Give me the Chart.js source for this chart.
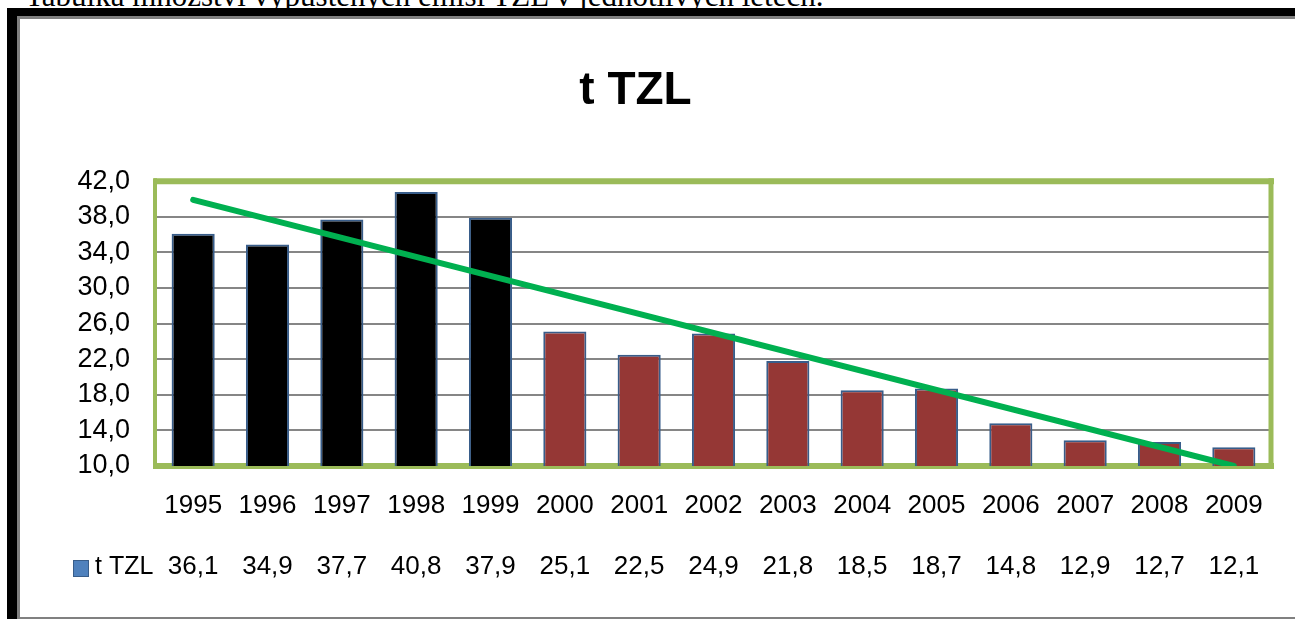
<!DOCTYPE html>
<html>
<head>
<meta charset="utf-8">
<script src="https://cdn.jsdelivr.net/npm/chart.js@4"></script>
<style>
  html, body { margin: 0; padding: 0; background: #fff; overflow: hidden; }
  #caption {
    position: absolute; left: 25px; top: -20px; white-space: nowrap;
    font: 31px/31px "Liberation Serif", "Times New Roman", serif; color: #000;
  }
  #frameOuter {
    position: absolute; left: 7px; top: 8px; width: 1400px; height: 700px;
    border-left: 10px solid #000; border-top: 8px solid #000;
  }
  #frameInner {
    position: absolute; left: 17px; top: 16px; width: 1400px; height: 598px;
    border-left: 3px solid #808080; border-top: 3px solid #808080; border-bottom: 2px solid #808080;
  }
  #chart { position: absolute; left: 0; top: 0; }
</style>
</head>
<body>
<div id="caption">Tabulka množství vypuštěných emisí TZL v jednotlivých letech.</div>
<div id="frameOuter"></div>
<div id="frameInner"></div>
<canvas id="chart" width="1295" height="619"></canvas>
<script>
// --- Datos ---
const years = ['1995', '1996', '1997', '1998', '1999', '2000', '2001', '2002',
               '2003', '2004', '2005', '2006', '2007', '2008', '2009'];
const tzl = [36.1, 34.9, 37.7, 40.8, 37.9, 25.1, 22.5, 24.9, 21.8, 18.5, 18.7, 14.8, 12.9, 12.7, 12.1];
// linea de tendencia: solo los extremos
const trend = [39.9, null, null, null, null, null, null, null, null, null, null, null, null, null, 10.0];
const yTicks = [10, 14, 18, 22, 26, 30, 34, 38, 42];
const seriesName = 't TZL';

const FONT = '"Liberation Sans", Arial, sans-serif';
const fmt = v => v.toFixed(1).replace('.', ',');

// borde verde del area de trazado
const plotBorder = {
    id: 'plotBorder',
    beforeDatasetsDraw(chart) {
        const { ctx, chartArea: a } = chart;
        ctx.save();
        ctx.strokeStyle = '#9BBB59';
        ctx.lineWidth = 6;
        ctx.beginPath(); ctx.moveTo(a.left - 2, a.top); ctx.lineTo(a.right + 3, a.top); ctx.stroke();
        ctx.beginPath(); ctx.moveTo(a.left - 2, a.bottom); ctx.lineTo(a.right + 3, a.bottom); ctx.stroke();
        ctx.lineWidth = 4;
        ctx.beginPath(); ctx.moveTo(a.left - 1, a.top - 3); ctx.lineTo(a.left - 1, a.bottom + 3); ctx.stroke();
        ctx.lineWidth = 5;
        ctx.beginPath(); ctx.moveTo(a.right, a.top - 3); ctx.lineTo(a.right, a.bottom + 3); ctx.stroke();
        ctx.restore();
    }
};

// tabla de datos bajo el eje
const dataTable = {
    id: 'dataTable',
    afterDraw(chart) {
        const { ctx } = chart;
        const x = chart.scales.x;
        const rowY = 567;
        ctx.save();
        ctx.fillStyle = '#4F81BD';
        ctx.fillRect(73, 560, 16, 17);
        ctx.strokeStyle = '#385D8A';
        ctx.lineWidth = 1;
        ctx.strokeRect(73.5, 560.5, 15, 16);
        ctx.fillStyle = '#000';
        ctx.font = '25px ' + FONT;
        ctx.textBaseline = 'middle';
        ctx.textAlign = 'left';
        ctx.fillText(seriesName, 95, rowY);
        ctx.font = '26px ' + FONT;
        ctx.textAlign = 'center';
        tzl.forEach((v, i) => ctx.fillText(fmt(v), x.getPixelForValue(i), rowY));
        ctx.restore();
    }
};

new Chart(document.getElementById('chart'), {
    data: {
        labels: years,
        datasets: [{
            type: 'line',
            label: 'trend',
            data: trend,
            spanGaps: true,
            borderColor: '#00B050',
            borderWidth: 6,
            borderCapStyle: 'round',
            pointRadius: 0,
            order: 0
        }, {
            type: 'bar',
            label: seriesName,
            data: tzl,
            backgroundColor: years.map((y, i) => i < 5 ? '#000000' : '#953735'),
            borderColor: '#385D8A',
            borderWidth: 2,
            categoryPercentage: 1,
            barPercentage: 0.58,
            order: 1
        }]
    },
    options: {
        responsive: false,
        animation: false,
        layout: { padding: { left: 0, right: 24, top: 0, bottom: 0 } },
        plugins: {
            legend: { display: false },
            tooltip: { enabled: false },
            title: {
                display: true,
                text: seriesName,
                color: '#000',
                font: { family: FONT, size: 46, weight: 'bold', lineHeight: 1.2 },
                padding: { top: 64, bottom: 62 }
            }
        },
        scales: {
            x: {
                grid: { display: false, drawTicks: false },
                border: { display: false },
                ticks: { color: '#000', font: { family: FONT, size: 26 }, padding: 24, maxRotation: 0, autoSkip: false },
                afterFit(s) { s.height = 153; }
            },
            y: {
                min: 10,
                max: 42,
                afterBuildTicks(s) { s.ticks = yTicks.map(v => ({ value: v })); },
                grid: { color: '#868686', lineWidth: 2, drawTicks: false },
                border: { display: false },
                ticks: {
                    color: '#000',
                    font: { family: FONT, size: 27 },
                    padding: 26,
                    autoSkip: false,
                    callback: v => fmt(v)
                },
                afterFit(s) { s.width = 156; }
            }
        }
    },
    plugins: [plotBorder, dataTable]
});
</script>
</body>
</html>
